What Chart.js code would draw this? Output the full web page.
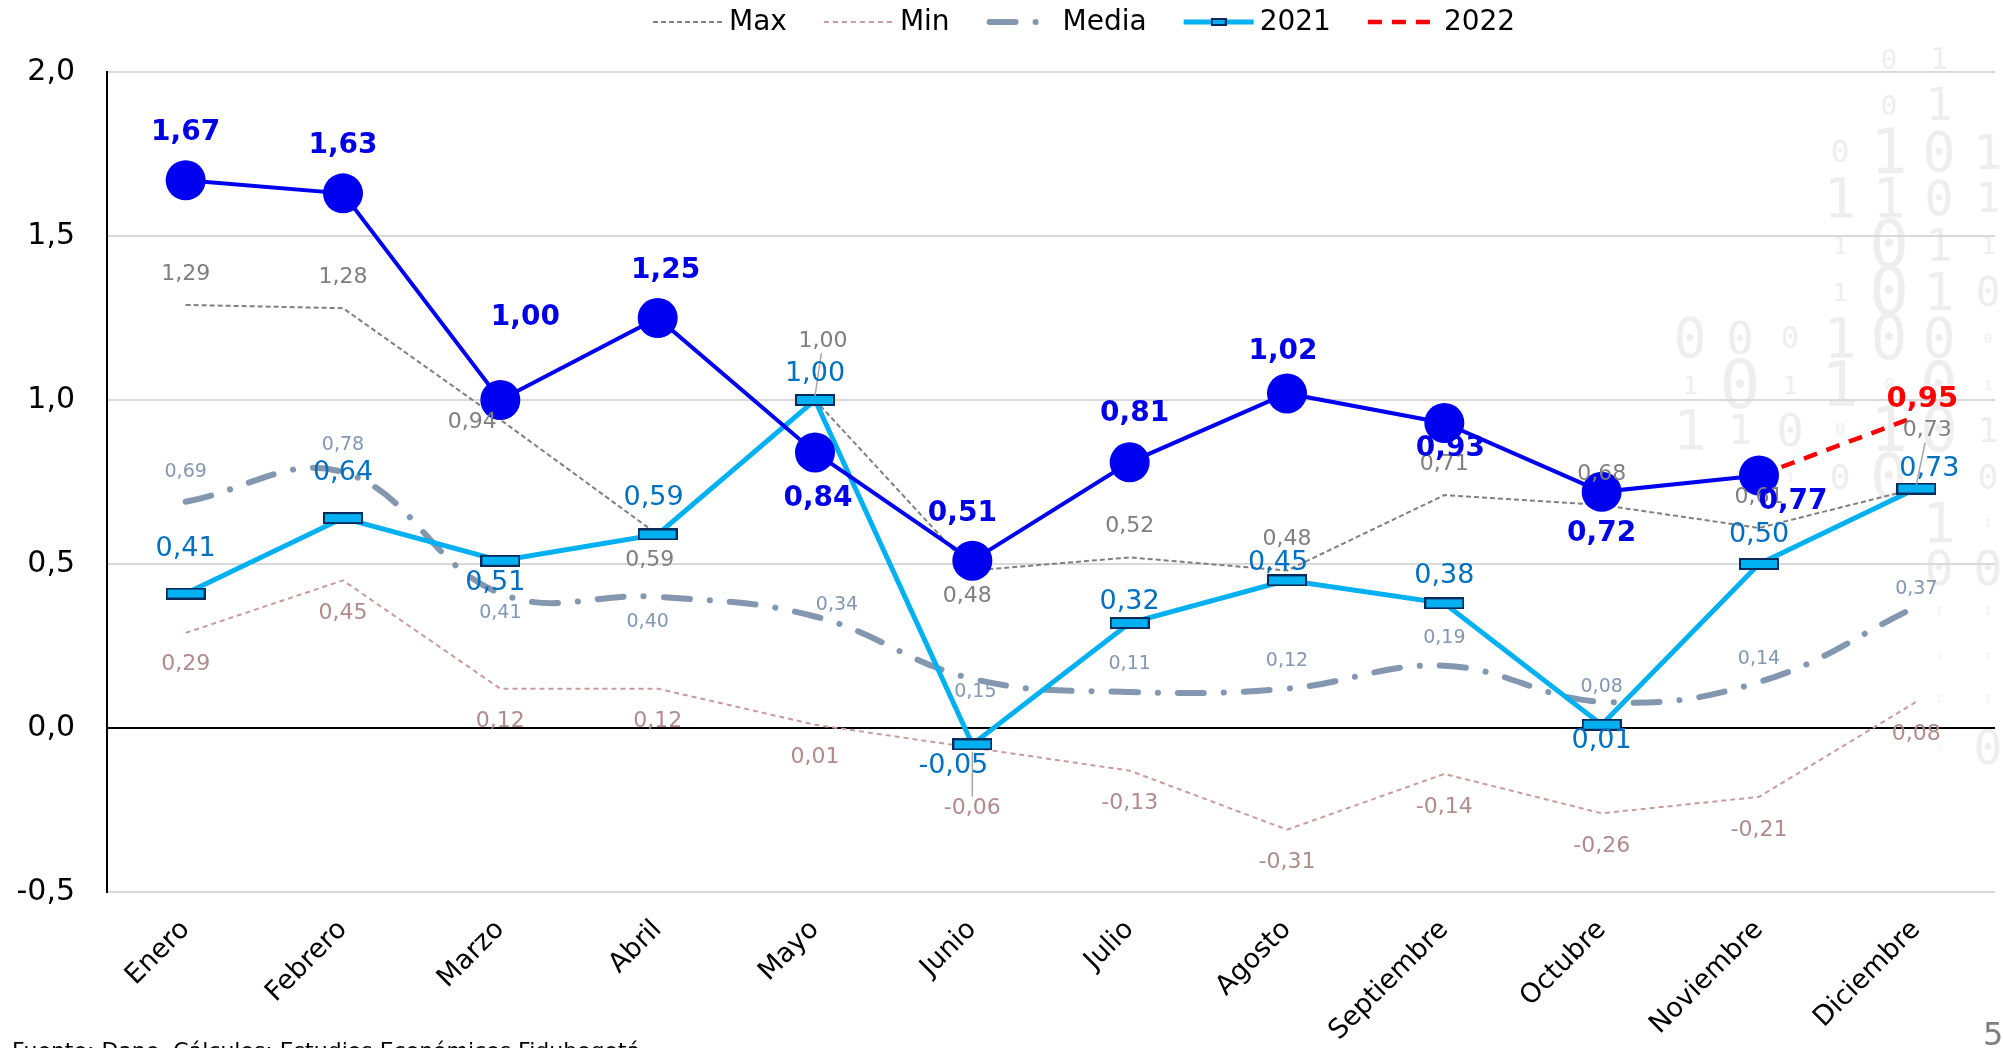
<!DOCTYPE html>
<html>
<head>
<meta charset="utf-8">
<script src="https://cdn.jsdelivr.net/npm/chart.js@4.4.0/dist/chart.umd.min.js"></script>
<style>
html,body{margin:0;padding:0;background:#fff;overflow:hidden}
#wrap{position:relative;width:2003px;height:1048px;overflow:hidden}
#bits{position:absolute;left:0;top:0;width:2003px;height:1048px;font-family:'DejaVu Sans Mono',monospace;color:#eeeeee}
#bits span{position:absolute;line-height:1;transform:translate(-50%,-50%)}
#chart{position:absolute;left:0;top:0}
#src{position:absolute;left:12px;top:1040px;font:22px 'DejaVu Sans';line-height:1;color:#000;white-space:nowrap}
#page{position:absolute;left:1983px;top:1018px;font:32px 'DejaVu Sans';line-height:1;color:#7f7f7f}
</style>
</head>
<body>
<div id="wrap">
  <div id="bits"></div>
  <canvas id="chart" width="2015" height="1048"></canvas>
  <div id="src">Fuente: Dane. Cálculos: Estudios Económicos Fidubogotá</div>
  <div id="page">5</div>
</div>
<script>
const FONT="'DejaVu Sans', Verdana, sans-serif";
const MONTHS=["Enero","Febrero","Marzo","Abril","Mayo","Junio","Julio","Agosto","Septiembre","Octubre","Noviembre","Diciembre"];
const MAX_VALS=[1.29,1.28,0.94,0.59,1.00,0.48,0.52,0.48,0.71,0.68,0.61,0.73];
const MIN_VALS=[0.29,0.45,0.12,0.12,0.01,-0.06,-0.13,-0.31,-0.14,-0.26,-0.21,0.08];
const MEDIA_VALS=[0.69,0.78,0.41,0.40,0.34,0.15,0.11,0.12,0.19,0.08,0.14,0.37];
const Y2021=[0.41,0.64,0.51,0.59,1.00,-0.05,0.32,0.45,0.38,0.01,0.50,0.73];
const Y2022=[1.67,1.63,1.00,1.25,0.84,0.51,0.81,1.02,0.93,0.72,0.77,null];
const Y2022_PROY=[null,null,null,null,null,null,null,null,null,null,0.77,0.95];
const Y_MIN=-0.5,Y_MAX=2.0,Y_STEP=0.5;

// decorative binary watermark on the right: [x, y, digit, size]
const BITS=[
 [1889,59,"0",27],[1939,59,"1",30],
 [1889,105,"0",27],[1939,105,"1",44],
 [1840,152,"0",30],[1889,152,"1",62],[1939,152,"0",55],[1988,152,"1",48],
 [1840,198,"1",55],[1889,198,"1",55],[1939,198,"0",48],[1988,198,"1",41],
 [1840,245,"1",25],[1889,245,"0",66],[1939,245,"1",45],[1988,245,"1",25],
 [1840,292,"1",25],[1889,292,"0",66],[1939,292,"1",52],[1988,292,"0",41],
 [1690,338,"0",55],[1740,338,"0",45],[1790,338,"0",30],[1840,338,"1",55],[1889,338,"0",62],[1939,338,"0",55],[1988,338,"0",14],
 [1690,385,"1",25],[1740,385,"0",68],[1790,385,"1",25],[1840,385,"1",62],[1889,385,"0",16],[1939,385,"0",62],[1988,385,"1",14],
 [1690,430,"1",55],[1740,430,"1",41],[1790,430,"0",45],[1840,430,"0",16],[1889,430,"1",62],[1939,430,"0",62],[1988,430,"1",34],
 [1740,477,"0",16],[1790,477,"1",14],[1840,477,"0",34],[1889,477,"0",62],[1988,477,"0",34],
 [1939,523,"1",55],[1988,523,"1",11],
 [1939,568,"0",48],[1988,568,"0",48],
 [1939,612,"1",10],[1988,612,"1",10],
 [1939,657,"1",8],[1988,657,"1",8],
 [1939,700,"1",8],[1988,700,"1",8],
 [1939,747,"1",8],[1988,747,"0",48]
];
const bitsEl=document.getElementById("bits");
BITS.forEach(([x,y,d,s])=>{const sp=document.createElement("span");sp.textContent=d;sp.style.left=x+"px";sp.style.top=y+"px";sp.style.fontSize=s+"px";bitsEl.appendChild(sp);});

const fmt=v=>v.toFixed(2).replace(".",",");

// flat rectangle marker for 2021
function rectMarker(w,h){
  const c=document.createElement("canvas");c.width=w;c.height=h;
  const g=c.getContext("2d");
  g.fillStyle="#00b0f0";g.fillRect(0,0,w,h);
  g.strokeStyle="#0b2a5c";g.lineWidth=2;g.strokeRect(1,1,w-2,h-2);
  return c;
}
const MARK=rectMarker(40,12);

const datasets=[
  {label:"Max",data:MAX_VALS,borderColor:"#808080",borderWidth:2,borderDash:[5,3],pointRadius:0,order:5,
   lbl:{color:"#7f7f7f",font:"22px "+FONT,def:[0,-31],lead:[4,11],
        off:{2:[-28,3],3:[-8,26],4:[8,-59],5:[-5,26],11:[11,-58]}}},
  {label:"Min",data:MIN_VALS,borderColor:"#c99c9c",borderWidth:2,borderDash:[5,4],pointRadius:0,order:4,
   lbl:{color:"#b08c8c",font:"22px "+FONT,def:[0,33],lead:[5],off:{0:[0,31],5:[0,61]}}},
  {label:"Media",data:MEDIA_VALS,borderColor:"#8497b0",borderWidth:6,borderDash:[26,20,0.1,20],borderCapStyle:"round",tension:0.4,pointRadius:0,order:3,
   lbl:{color:"#8497b0",font:"19px "+FONT,def:[0,-28],
        off:{0:[0,-30],1:[0,-27],2:[0,20],3:[-10,25],4:[22,-11],5:[3,13],9:[0,-15],10:[0,-23],11:[0,-18]}}},
  {label:"2021",data:Y2021,borderColor:"#00b0f0",borderWidth:5,pointStyle:MARK,pointRadius:6,order:2,marker:true,
   lbl:{color:"#0070c0",font:"27px "+FONT,def:[0,-27],
        off:{0:[0,-45],1:[0,-45],2:[-5,22],3:[-4,-36],4:[0,-26],5:[-19,22],6:[0,-21],7:[-9,-17],9:[0,16],10:[0,-29],11:[13,-20]}}},
  {label:"2022",data:Y2022_PROY,borderColor:"#ff0000",borderWidth:4.5,borderDash:[14,10],pointRadius:0,order:1,
   lbl:{color:"#ff0000",font:"bold 29px "+FONT,def:[6,-17],skip:[10]}},
  {label:"2022 obs",data:Y2022,borderColor:"#0000f0",borderWidth:4,pointRadius:20,pointBackgroundColor:"#0000f0",pointBorderWidth:0,order:0,noLegend:true,
   lbl:{color:"#0000e6",font:"bold 28px "+FONT,def:[0,-48],
        off:{2:[25,-82],3:[8,-47],4:[3,46],5:[-10,-47],6:[5,-49],7:[-4,-42],8:[6,26],9:[0,42],10:[34,26]}}}
];

const valueLabels={id:"valueLabels",afterDatasetsDraw(chart){
  const ctx=chart.ctx;
  chart.data.datasets.forEach((ds,i)=>{
    const L=ds.lbl;if(!L)return;
    const meta=chart.getDatasetMeta(i);
    // leader lines for labels moved away from their point
    (L.lead||[]).forEach(j=>{
      const pt=meta.data[j],o=(L.off&&L.off[j])||L.def;
      const ey=pt.y+o[1]+(o[1]<0?12:-12);
      ctx.save();ctx.strokeStyle="#a6a6a6";ctx.lineWidth=1.5;
      ctx.beginPath();ctx.moveTo(pt.x+o[0]*0.8,ey);ctx.lineTo(pt.x,pt.y+(o[1]<0?-4:4));ctx.stroke();ctx.restore();
    });
    ctx.save();ctx.font=L.font;ctx.fillStyle=L.color;ctx.textAlign="center";ctx.textBaseline="middle";
    meta.data.forEach((pt,j)=>{
      const v=ds.data[j];
      if(v===null||v===undefined||(L.skip&&L.skip.includes(j)))return;
      const o=(L.off&&L.off[j])||L.def;
      ctx.fillText(fmt(v),pt.x+o[0],pt.y+o[1]);
    });
    ctx.restore();
  });
}};

const lineLegend={id:"lineLegend",afterDraw(chart){
  const ctx=chart.ctx;let x=653;const y=22,len=70,gap=6,itemGap=37;
  ctx.save();ctx.font="28px "+FONT;ctx.textBaseline="middle";ctx.fillStyle="#000";
  chart.data.datasets.filter(d=>!d.noLegend).forEach(ds=>{
    ctx.save();
    ctx.strokeStyle=ds.borderColor;ctx.lineWidth=ds.borderWidth;
    ctx.lineCap=ds.borderCapStyle||"butt";ctx.setLineDash(ds.borderDash||[]);
    ctx.beginPath();ctx.moveTo(x+(ds.borderCapStyle==="round"?3:0),y);ctx.lineTo(x+len-(ds.borderCapStyle==="round"?14:0),y);ctx.stroke();
    if(ds.marker){ctx.drawImage(rectMarker(16,8),x+len/2-8,y-4);}
    ctx.restore();
    x+=len+gap;
    ctx.fillText(ds.label,x,y+1);
    x+=ctx.measureText(ds.label).width+itemGap;
  });
  ctx.restore();
}};

new Chart(document.getElementById("chart"),{
  type:"line",
  data:{labels:MONTHS,datasets},
  options:{
    responsive:false,animation:false,events:[],
    layout:{padding:{top:72,right:8,left:0,bottom:0}},
    plugins:{legend:{display:false},tooltip:{enabled:false}},
    scales:{
      x:{offset:true,grid:{display:false},border:{display:false},
         ticks:{color:"#000",font:{size:27,family:FONT},minRotation:45,maxRotation:45,autoSkip:false,padding:14},
         afterFit(s){s.height=156;}},
      y:{min:Y_MIN,max:Y_MAX,
         ticks:{stepSize:Y_STEP,color:"#000",font:{size:30,family:FONT},padding:32,callback:v=>v.toFixed(1).replace(".",",")},
         grid:{color:c=>c.tick&&c.tick.value===0?"#000":"#d9d9d9",lineWidth:2,drawTicks:false},
         border:{color:"#000",width:2},
         afterFit(s){s.width=107;}}
    }
  },
  plugins:[valueLabels,lineLegend]
});
</script>
</body>
</html>
